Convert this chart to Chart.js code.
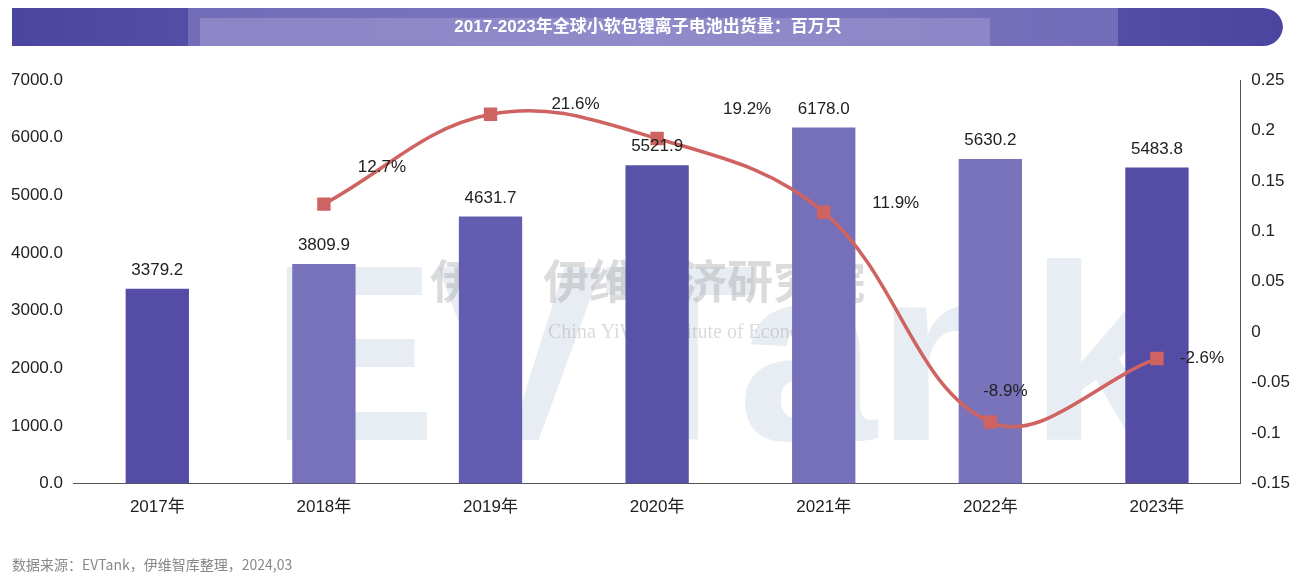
<!DOCTYPE html>
<html><head><meta charset="utf-8">
<script src="https://cdn.jsdelivr.net/npm/chart.js@4"></script>
<style>html,body{margin:0;padding:0;background:#fff}#w{width:1303px;height:579px;position:relative}</style>
</head><body><div id="w"><canvas id="c" width="1303" height="579"></canvas></div>
<script>
const categories=['2017年','2018年','2019年','2020年','2021年','2022年','2023年'];
const shipments=[3379.2,3809.9,4631.7,5521.9,6178.0,5630.2,5483.8];
const growth=[null,0.127,0.216,0.192,0.119,-0.089,-0.026];
const growthLabels=[null,'12.7%','21.6%','19.2%','11.9%','-8.9%','-2.6%'];
const leftTicks=[0,1000,2000,3000,4000,5000,6000,7000];
const barColors=['#554ca6','#7772b9','#625db0','#5853a8','#7570b9','#7873ba','#554ca6'];
const growthLabelOffsets=[null,[58,-37],[85,-10],[90,-29],[72,-9],[15,-31],[45,0]];
const title='2017-2023年全球小软包锂离子电池出货量：百万只';
const source='数据来源：EVTank，伊维智库整理，2024,03';
const FONT='"Liberation Sans", Arial, "Noto Sans CJK SC", sans-serif';

const deco={id:'deco',
beforeDraw(ch){const c=ch.ctx;c.save();
 const g=c.createLinearGradient(12,0,1283,0);g.addColorStop(0,'#4c45a0');g.addColorStop(0.5,'#6a64b4');g.addColorStop(1,'#4c45a0');
 c.fillStyle=g;c.beginPath();c.moveTo(12,8);c.lineTo(1263,8);c.arcTo(1283,8,1283,28,20);c.arcTo(1283,46,1263,46,20);c.lineTo(12,46);c.closePath();c.fill();
 c.fillStyle='rgba(140,135,200,0.55)';c.fillRect(188,8,930,38);
 c.fillStyle='rgba(170,165,215,0.45)';c.fillRect(200,18,790,28);
 c.fillStyle='#fff';c.font='bold 17px '+FONT;c.textAlign='center';c.textBaseline='middle';c.fillText(title,648,27);
 c.globalAlpha=0.16;c.fillStyle='#6f8fb5';c.font='bold 250px '+FONT;c.textAlign='left';c.textBaseline='alphabetic';c.fillText('EVTank',270,440);
 c.globalAlpha=0.35;c.fillStyle='#999';c.font='bold 46px "Noto Sans CJK SC"';c.fillText('伊维  伊维经济研究院',430,298);
 c.font='20px "Liberation Serif"';c.fillText('China YiWei Institute of Economics',548,338);
 c.restore();},
afterDatasetsDraw(ch){const c=ch.ctx;c.save();c.font='17px '+FONT;c.fillStyle='#222';c.textAlign='center';c.textBaseline='bottom';
 ch.getDatasetMeta(1).data.forEach((b,i)=>{c.fillText(shipments[i].toFixed(1),b.x,b.y-10);});
 c.textBaseline='middle';
 ch.getDatasetMeta(0).data.forEach((p,i)=>{if(growth[i]==null)return;const o=growthLabelOffsets[i];c.fillText(growthLabels[i],p.x+o[0],p.y+o[1]);});
 c.textAlign='left';c.fillStyle='#888';c.font='14px "Noto Sans CJK SC"';c.fillText(source,12,565);
 c.restore();}};

new Chart(document.getElementById('c'),{
 data:{labels:categories,datasets:[
  {type:'line',data:growth,yAxisID:'y1',borderColor:'#cf6361',backgroundColor:'#cf6361',borderWidth:3.5,tension:0.38,pointStyle:'rect',pointRadius:7,pointHoverRadius:7,order:0},
  {type:'bar',data:shipments,yAxisID:'y',backgroundColor:barColors,barPercentage:0.38,categoryPercentage:1,order:1}
 ]},
 options:{responsive:false,animation:false,devicePixelRatio:1,
  layout:{padding:{top:80,left:8,right:10,bottom:55}},
  plugins:{legend:{display:false},tooltip:{enabled:false}},
  scales:{
   x:{grid:{display:false},border:{color:'#555'},ticks:{color:'#222',font:{size:17,family:FONT},padding:6}},
   y:{min:0,max:7000,afterBuildTicks(a){a.ticks=leftTicks.map(v=>({value:v}));},grid:{display:false},border:{display:false},
      ticks:{color:'#222',font:{size:17,family:FONT},callback:v=>v.toFixed(1)}},
   y1:{position:'right',min:-0.15,max:0.25,grid:{display:false},border:{color:'#555'},
      ticks:{stepSize:0.05,color:'#222',font:{size:17,family:FONT},callback:v=>{const r=Math.round(v*100)/100;return r===0?'0':String(r);}}}
  }}
 ,plugins:[deco]});
</script></body></html>
